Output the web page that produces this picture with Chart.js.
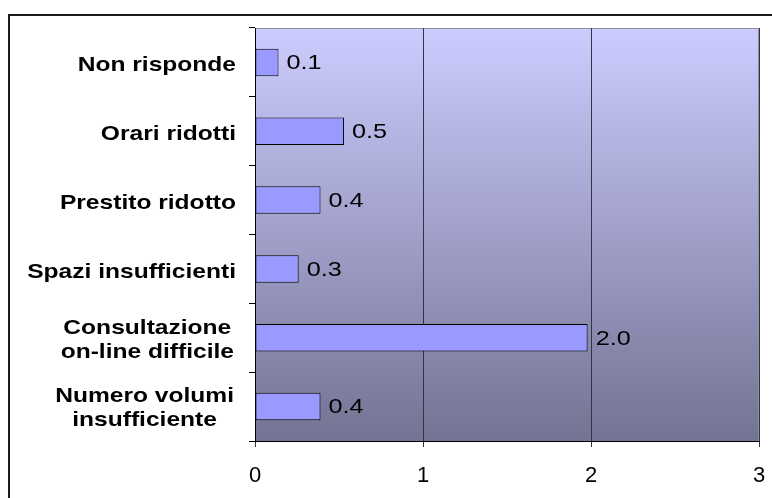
<!DOCTYPE html>
<html>
<head>
<meta charset="utf-8">
<script src="https://cdn.jsdelivr.net/npm/chart.js@4"></script>
<style>
html,body{margin:0;padding:0;background:#fff;}
#wrap{position:relative;width:772px;height:498px;overflow:hidden;}
canvas{display:block;}
</style>
</head>
<body>
<div id="wrap"><canvas id="c" width="772" height="498"></canvas></div>
<script>
const categories = [
  ["Non risponde"],
  ["Orari ridotti"],
  ["Prestito ridotto"],
  ["Spazi insufficienti"],
  ["Consultazione", "on-line difficile"],
  ["Numero volumi", "insufficiente"]
];
const values = [0.14, 0.53, 0.39, 0.26, 1.98, 0.39];
const valueLabels = ["0.1", "0.5", "0.4", "0.3", "2.0", "0.4"];
const xTicks = [0, 1, 2, 3];

const FONT = '"Liberation Sans", Arial, Helvetica, sans-serif';
const STRETCH = 1.17;

function stretchedText(ctx, text, x, y, align, s) {
  const k = s || STRETCH;
  const w = ctx.measureText(text).width * k;
  let left = x;
  if (align === 'right') left = x - w;
  else if (align === 'center') left = x - w / 2;
  ctx.save();
  ctx.translate(left, y);
  ctx.scale(k, 1);
  ctx.textAlign = 'left';
  ctx.fillText(text, 0, 0);
  ctx.restore();
  return w;
}

const decor = {
  id: 'decor',
  beforeDraw(chart) {
    const ctx = chart.ctx;
    const a = chart.chartArea;
    ctx.save();
    ctx.fillStyle = '#ffffff';
    ctx.fillRect(0, 0, chart.width, chart.height);
    // outer frame
    ctx.fillStyle = '#1a1a1a';
    ctx.fillRect(8, 14, chart.width, 2);
    ctx.fillRect(8, 14, 2, chart.height);
    // plot background gradient
    const g = ctx.createLinearGradient(0, a.top, 0, a.bottom);
    g.addColorStop(0, '#CCCCFF');
    g.addColorStop(1, '#737393');
    ctx.fillStyle = g;
    ctx.fillRect(a.left, a.top, a.right - a.left, a.bottom - a.top);
    // top/right plot border
    ctx.strokeStyle = '#8f8f9f';
    ctx.lineWidth = 1;
    ctx.beginPath();
    ctx.moveTo(a.left, a.top + 0.5);
    ctx.lineTo(a.right - 0.5, a.top + 0.5);
    ctx.lineTo(a.right - 0.5, a.bottom);
    ctx.stroke();
    ctx.restore();
  },
  afterDraw(chart) {
    const ctx = chart.ctx;
    const ys = chart.scales.y;
    ctx.save();
    ctx.fillStyle = '#000';
    ctx.textBaseline = 'middle';
    // category labels
    ctx.font = 'bold 21px ' + FONT;
    const right = 236;
    categories.forEach((lines, i) => {
      const cy = ys.getPixelForValue(i);
      if (lines.length === 1) {
        stretchedText(ctx, lines[0], right, cy + 3, 'right');
      } else {
        const widths = lines.map(t => ctx.measureText(t).width * STRETCH);
        const maxW = Math.max(...widths);
        const cx = right - maxW / 2 - 2;
        const lh = 24;
        const start = cy + 2 - (lines.length - 1) * lh / 2;
        lines.forEach((t, k) => stretchedText(ctx, t, cx, start + k * lh, 'center'));
      }
    });
    // value labels
    ctx.font = '21px ' + FONT;
    const meta = chart.getDatasetMeta(0);
    meta.data.forEach((bar, i) => {
      stretchedText(ctx, valueLabels[i], bar.x + 8, bar.y + 1, 'left', 1.2);
    });
    ctx.restore();
  }
};

new Chart(document.getElementById('c'), {
  type: 'bar',
  data: {
    labels: categories,
    datasets: [{
      data: values,
      backgroundColor: '#9999FF',
      borderColor: '#000000',
      borderWidth: 1,
      borderSkipped: false,
      barPercentage: 0.4,
      categoryPercentage: 1.0
    }]
  },
  options: {
    indexAxis: 'y',
    responsive: false,
    animation: false,
    events: [],
    layout: { padding: { left: 0, top: 28, right: 13, bottom: 0 } },
    plugins: { legend: { display: false }, tooltip: { enabled: false } },
    scales: {
      x: {
        min: 0, max: 3,
        afterBuildTicks(scale) { scale.ticks = xTicks.map(v => ({ value: v })); },
        afterFit(scale) { scale.height = 57; scale.paddingLeft = 0; scale.paddingRight = 0; },
        ticks: {
          color: '#000',
          font: { family: FONT, size: 22 },
          padding: 16,
          maxRotation: 0,
          callback: v => String(v)
        },
        grid: { color: '#333344', lineWidth: 1, tickLength: 6, drawTicks: true },
        border: { color: '#000', width: 1 }
      },
      y: {
        afterFit(scale) { scale.width = 255; scale.paddingTop = 0; scale.paddingBottom = 0; },
        ticks: { display: false },
        grid: { offset: true, drawOnChartArea: false, drawTicks: true, tickLength: 6, color: '#000' },
        border: { color: '#000', width: 1 }
      }
    }
  },
  plugins: [decor]
});
</script>
</body>
</html>
